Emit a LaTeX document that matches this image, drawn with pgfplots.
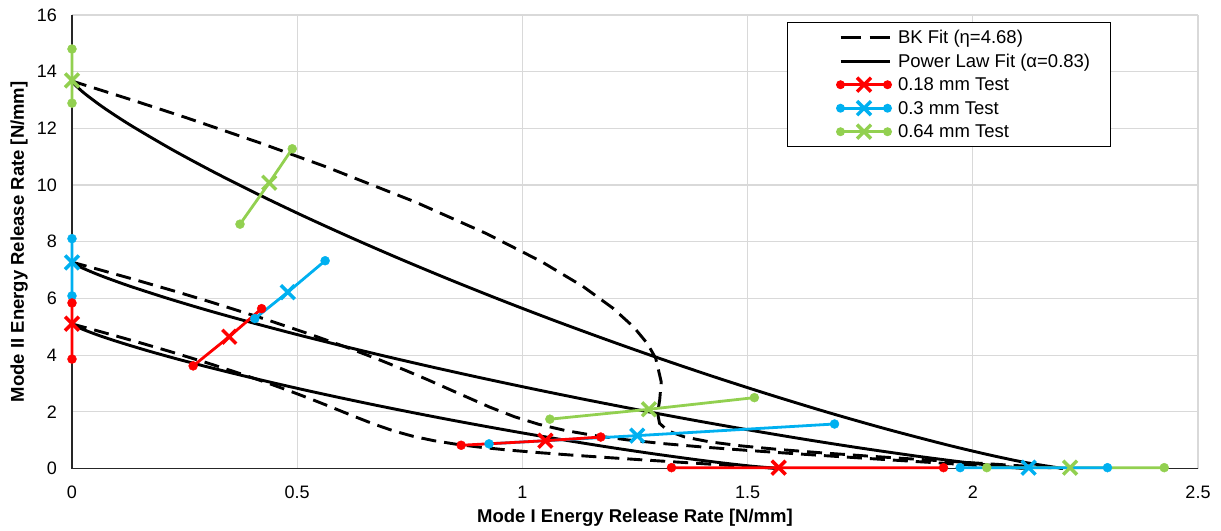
\documentclass[border=0pt]{standalone}
\usepackage{fontspec}
\setmainfont{Liberation Sans}
\usepackage{pgfplots}
\pgfplotsset{compat=1.18}
\usepackage{pgfplotstable}

\definecolor{t018}{HTML}{FF0000}
\definecolor{t030}{HTML}{00B0F0}
\definecolor{t064}{HTML}{92D050}
\definecolor{gridgray}{HTML}{D9D9D9}

\newcommand{\tickfont}{\fontsize{18bp}{21bp}\selectfont}
\newcommand{\labfont}{\fontsize{18.5bp}{22bp}\selectfont\bfseries}
\newcommand{\legfont}{\fontsize{18.5bp}{22bp}\selectfont}

% Power law fits (alpha = 0.83): GI, GII
\pgfplotstableread{
x y
0 13.670
0.0037 13.588
0.0086 13.506
0.0198 13.342
0.0322 13.178
0.0596 12.851
0.0893 12.526
0.1373 12.041
0.2237 11.239
0.3164 10.447
0.4140 9.666
0.5157 8.895
0.6211 8.135
0.7295 7.387
0.8406 6.652
0.9544 5.930
1.0705 5.223
1.1889 4.533
1.3092 3.859
1.4315 3.204
1.5556 2.573
1.6812 1.966
1.8088 1.390
1.9378 0.853
2.0159 0.555
2.0682 0.370
2.1208 0.200
2.2000 0
}\plhigh

\pgfplotstableread{
x y
0 7.280
0.0036 7.236
0.0083 7.193
0.0190 7.105
0.0310 7.018
0.0574 6.844
0.0861 6.671
0.1323 6.412
0.2156 5.986
0.3049 5.563
0.3990 5.148
0.4969 4.737
0.5985 4.332
0.7030 3.934
0.8101 3.542
0.9197 3.158
1.0316 2.782
1.1456 2.414
1.2616 2.055
1.3795 1.706
1.4991 1.370
1.6201 1.047
1.7431 0.740
1.8673 0.454
1.9426 0.296
1.9930 0.197
2.0437 0.107
2.1200 0
}\plmid

\pgfplotstableread{
x y
0 5.100
0.0027 5.069
0.0061 5.039
0.0141 4.978
0.0230 4.916
0.0425 4.795
0.0637 4.673
0.0980 4.492
0.1597 4.193
0.2258 3.897
0.2955 3.606
0.3680 3.319
0.4432 3.035
0.5206 2.756
0.5999 2.482
0.6811 2.212
0.7640 1.949
0.8484 1.691
0.9343 1.440
1.0216 1.195
1.1101 0.960
1.1998 0.733
1.2909 0.519
1.3829 0.318
1.4386 0.207
1.4760 0.138
1.5135 0.075
1.5700 0
}\pllow

% BK fits (eta = 4.68): GI, GII
\pgfplotstableread{
x y
0 13.670
0.1314 13.011
0.2527 12.382
0.4168 11.491
0.5611 10.661
0.7623 9.402
0.9205 8.285
1.0425 7.298
1.1342 6.427
1.2007 5.660
1.2472 4.989
1.2778 4.401
1.2960 3.888
1.3083 3.053
1.3048 2.423
1.3002 1.950
1.3045 1.594
1.3237 1.324
1.3603 1.113
1.4145 0.943
1.4848 0.800
1.5687 0.672
1.6631 0.554
1.7649 0.441
1.8714 0.330
1.9802 0.220
2.0900 0.110
2.2000 0
}\bkhigh

\pgfplotstableread{
x y
0 7.280
0.0704 6.972
0.1363 6.678
0.2271 6.260
0.3089 5.870
0.4277 5.275
0.5271 4.744
0.6103 4.272
0.6798 3.852
0.7380 3.479
0.7872 3.149
0.8657 2.597
0.9276 2.165
0.9826 1.825
1.0370 1.556
1.0955 1.339
1.1607 1.161
1.2336 1.009
1.3145 0.876
1.4026 0.755
1.4969 0.642
1.5959 0.532
1.6982 0.425
1.8026 0.318
1.9081 0.212
2.0140 0.106
2.1200 0
}\bkmid

\pgfplotstableread{
x y
0 5.100
0.0494 4.888
0.0956 4.686
0.1595 4.398
0.2173 4.129
0.3016 3.719
0.3726 3.353
0.4325 3.027
0.4830 2.737
0.5258 2.479
0.5624 2.250
0.6221 1.866
0.6705 1.565
0.7141 1.326
0.7573 1.136
0.8033 0.982
0.8539 0.854
0.9098 0.744
0.9711 0.647
1.0374 0.559
1.1078 0.475
1.1815 0.394
1.2575 0.314
1.3349 0.236
1.4130 0.157
1.4915 0.079
1.5700 0
}\bklow

% Test results: k=0 range end, k=1 mean value
\pgfplotstableread{
x y k
0 3.86 0
0 5.11 1
0 5.84 0
nan nan 0
0.269 3.62 0
0.349 4.65 1
0.421 5.64 0
nan nan 0
0.864 0.82 0
1.051 0.98 1
1.174 1.11 0
nan nan 0
1.331 0.03 0
1.569 0.03 1
1.935 0.03 0
}\testA

\pgfplotstableread{
x y k
0 6.09 0
0 7.27 1
0 8.11 0
nan nan 0
0.406 5.29 0
0.479 6.22 1
0.562 7.33 0
nan nan 0
0.926 0.87 0
1.255 1.16 1
1.693 1.57 0
nan nan 0
1.972 0.03 0
2.124 0.03 1
2.299 0.03 0
}\testB

\pgfplotstableread{
x y k
0 12.89 0
0 13.69 1
0 14.80 0
nan nan 0
0.373 8.62 0
0.438 10.08 1
0.489 11.28 0
nan nan 0
1.061 1.74 0
1.281 2.09 1
1.515 2.50 0
nan nan 0
2.031 0.03 0
2.216 0.03 1
2.425 0.03 0
}\testC

\pgfplotsset{
  fitline/.style={forget plot, black, line width=2.9bp},
  bkline/.style={fitline, dash pattern=on 15bp off 8bp},
  testline/.style={forget plot, #1, line width=2.8bp, unbounded coords=jump},
  testdot/.style={forget plot, only marks, mark=*, mark size=4.5bp, #1,
    restrict expr to domain={\thisrow{k}}{0:0}},
  testmean/.style={forget plot, only marks, mark=x, mark size=9.8bp,
    line width=3.5bp, #1, restrict expr to domain={\thisrow{k}}{1:1}},
}

\begin{document}
\begin{tikzpicture}
\path[use as bounding box] (-72bp,-62.5bp) rectangle (1149bp,468.5bp);
\begin{axis}[
  at={(0,0)}, anchor=south west,
  scale only axis, width=1126bp, height=453.5bp,
  xmin=0, xmax=2.5, ymin=0, ymax=16,
  xtick={0,0.5,1,1.5,2,2.5}, xticklabels={0,0.5,1,1.5,2,2.5},
  ytick={0,2,4,6,8,10,12,14,16}, yticklabels={0,2,4,6,8,10,12,14,16},
  major tick length=0pt,
  grid=major, grid style={gridgray, line width=1.2bp},
  axis x line*=bottom, axis y line*=left,
  axis line style={black!85, line width=1.2bp, -},
  ticklabel style={font=\tickfont},
  xticklabel style={anchor=north, inner sep=0pt, yshift=-17bp},
  yticklabel style={anchor=east, inner sep=0pt, xshift=-15bp},
  xlabel={Mode I Energy Release Rate [N/mm]},
  ylabel={Mode II Energy Release Rate [N/mm]},
  label style={font=\labfont},
  xlabel style={at={(axis description cs:0.5,-0.108)}, anchor=center},
  ylabel style={at={(axis description cs:-0.047,0.5)}, anchor=center},
  clip=false,
  legend cell align=left,
  legend style={at={(axis description cs:0.635,0.9846)}, anchor=north west,
    draw=black, line width=1bp, fill=white, font=\legfont,
    inner xsep=0bp, inner ysep=6bp, row sep=5bp, column sep=6bp,
    nodes={inner sep=0bp, text height=15.5bp, text depth=3bp}},
]
% legend entries
\addlegendimage{legend image code/.code={
  \path[draw=none, fill=none] (-53bp,0bp) -- (49bp,0bp);
  \draw[black, line width=2.9bp, dash pattern=on 20bp off 9bp] (0bp,0bp) -- (49bp,0bp);}}
\addlegendentry{BK Fit (η=4.68)}
\addlegendimage{legend image code/.code={
  \path[draw=none, fill=none] (-53bp,0bp) -- (49bp,0bp);
  \draw[black, line width=2.9bp] (0bp,0bp) -- (49bp,0bp);}}
\addlegendentry{Power Law Fit (α=0.83)\hspace*{20bp}}
\addlegendimage{legend image code/.code={
  \path[draw=none, fill=none] (-53bp,0bp) -- (49bp,0bp);
  \draw[t018, line width=2.8bp] (0bp,0bp) -- (47bp,0bp);
  \fill[t018, draw=none] (0bp,0bp) circle[radius=4.5bp] (47bp,0bp) circle[radius=4.5bp];
  \draw[t018, line width=3.5bp] (16.5bp,-7bp) -- (30.5bp,7bp) (16.5bp,7bp) -- (30.5bp,-7bp);}}
\addlegendentry{0.18 mm Test}
\addlegendimage{legend image code/.code={
  \path[draw=none, fill=none] (-53bp,0bp) -- (49bp,0bp);
  \draw[t030, line width=2.8bp] (0bp,0bp) -- (47bp,0bp);
  \fill[t030, draw=none] (0bp,0bp) circle[radius=4.5bp] (47bp,0bp) circle[radius=4.5bp];
  \draw[t030, line width=3.5bp] (16.5bp,-7bp) -- (30.5bp,7bp) (16.5bp,7bp) -- (30.5bp,-7bp);}}
\addlegendentry{0.3 mm Test}
\addlegendimage{legend image code/.code={
  \path[draw=none, fill=none] (-53bp,0bp) -- (49bp,0bp);
  \draw[t064, line width=2.8bp] (0bp,0bp) -- (47bp,0bp);
  \fill[t064, draw=none] (0bp,0bp) circle[radius=4.5bp] (47bp,0bp) circle[radius=4.5bp];
  \draw[t064, line width=3.5bp] (16.5bp,-7bp) -- (30.5bp,7bp) (16.5bp,7bp) -- (30.5bp,-7bp);}}
\addlegendentry{0.64 mm Test}

% failure envelopes
\addplot[bkline] table {\bkhigh};
\addplot[bkline] table {\bkmid};
\addplot[bkline] table {\bklow};
\addplot[fitline, smooth] table {\plhigh};
\addplot[fitline, smooth] table {\plmid};
\addplot[fitline, smooth] table {\pllow};

% measured ranges
\addplot[testline=t064] table[x=x, y=y] {\testC};
\addplot[testdot=t064] table[x=x, y=y] {\testC};
\addplot[testline=t030] table[x=x, y=y] {\testB};
\addplot[testdot=t030] table[x=x, y=y] {\testB};
\addplot[testline=t018] table[x=x, y=y] {\testA};
\addplot[testdot=t018] table[x=x, y=y] {\testA};
% mean values
\addplot[testmean=t064] table[x=x, y=y] {\testC};
\addplot[testmean=t030] table[x=x, y=y] {\testB};
\addplot[testmean=t018] table[x=x, y=y] {\testA};
\end{axis}
\end{tikzpicture}
\end{document}
